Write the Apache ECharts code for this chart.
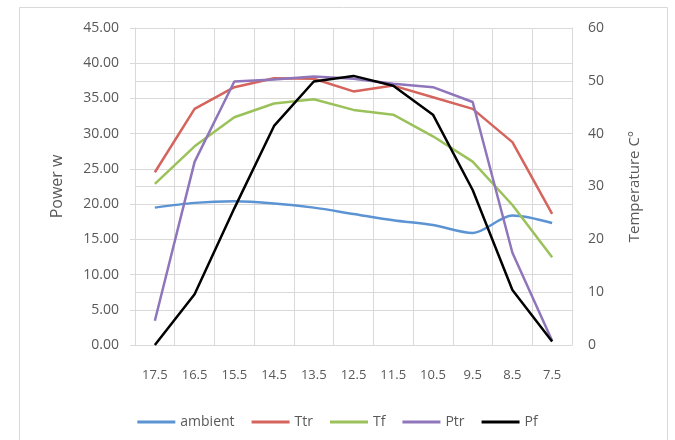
<!DOCTYPE html>
<html>
<head>
<meta charset="utf-8">
<script src="https://cdn.jsdelivr.net/npm/echarts@6/dist/echarts.min.js"></script>
<style>
  html, body { margin: 0; padding: 0; background: #fff; }
  #chart { width: 675px; height: 440px; }
</style>
</head>
<body>
<div id="chart"></div>
<script>
// x categories
const positions = ['17.5', '16.5', '15.5', '14.5', '13.5', '12.5', '11.5', '10.5', '9.5', '8.5', '7.5'];
// temperatures (right axis, C°)
const ambient = [26.0, 26.9, 27.2, 26.8, 26.0, 24.8, 23.6, 22.7, 21.2, 24.5, 23.1];
const ttr = [32.7, 44.7, 48.8, 50.5, 50.4, 48.0, 49.1, 46.9, 44.7, 38.4, 24.8];
const tf = [30.5, 37.6, 43.1, 45.7, 46.5, 44.5, 43.6, 39.5, 34.7, 26.5, 16.6];
// power (left axis, w)
const ptr = [3.45, 26.0, 37.4, 37.7, 38.1, 37.8, 37.1, 36.6, 34.5, 13.1, 0.6];
const pf = [0.0, 7.2, 19.4, 31.1, 37.4, 38.2, 36.8, 32.7, 22.0, 7.8, 0.5];

const grey = '#595959';
const gridColor = '#d9d9d9';
const font = '"Open Sans", sans-serif';

const myChart = echarts.init(document.getElementById('chart'));

function line(name, data, color, yIdx, smooth) {
  return {
    name: name,
    type: 'line',
    yAxisIndex: yIdx,
    data: data,
    smooth: smooth ? 0.3 : false,
    symbol: 'none',
    lineStyle: { color: color, width: 2.5 },
    itemStyle: { color: color }
  };
}

const option = {
  animation: false,
  textStyle: { fontFamily: font },
  graphic: [{
    type: 'rect',
    shape: { x: 19.5, y: 7.5, width: 648, height: 440 },
    style: { fill: 'none', stroke: gridColor, lineWidth: 1 },
    silent: true
  }],
  grid: { left: 135, right: 103, top: 28, bottom: 95 },
  legend: {
    bottom: 6,
    left: 'center',
    icon: 'rect',
    itemWidth: 38,
    itemHeight: 3,
    itemGap: 17,
    textStyle: { color: grey, fontSize: 14, fontFamily: font },
    data: ['ambient', 'Ttr', 'Tf', 'Ptr', 'Pf']
  },
  xAxis: {
    type: 'category',
    data: positions,
    boundaryGap: true,
    axisLine: { lineStyle: { color: gridColor } },
    axisTick: { show: false },
    axisLabel: { color: grey, fontSize: 13, margin: 24 },
    splitLine: { show: true, lineStyle: { color: gridColor } }
  },
  yAxis: [
    {
      type: 'value',
      min: 0, max: 45, interval: 5,
      name: 'Power w',
      nameLocation: 'middle',
      nameGap: 70,
      nameRotate: 90,
      nameTextStyle: { color: grey, fontSize: 16 },
      axisLine: { show: true, lineStyle: { color: gridColor } },
      axisTick: { show: true, length: 5, lineStyle: { color: gridColor } },
      axisLabel: { color: grey, fontSize: 14, margin: 16, formatter: v => v.toFixed(2) },
      splitLine: { lineStyle: { color: gridColor } }
    },
    {
      type: 'value',
      min: 0, max: 60, interval: 10,
      name: 'Temperature C°',
      nameLocation: 'middle',
      nameGap: 55,
      nameRotate: 90,
      nameTextStyle: { color: grey, fontSize: 15 },
      axisLine: { show: true, lineStyle: { color: gridColor } },
      axisTick: { show: false },
      axisLabel: { color: grey, fontSize: 14, margin: 16 },
      splitLine: { lineStyle: { color: gridColor } }
    }
  ],
  series: [
    line('ambient', ambient, '#5b93d3', 1, true),
    line('Ttr', ttr, '#d4645c', 1),
    line('Tf', tf, '#9bc25a', 1),
    line('Ptr', ptr, '#8f76bb', 0),
    line('Pf', pf, '#000000', 0)
  ]
};
myChart.setOption(option);
</script>
</body>
</html>
